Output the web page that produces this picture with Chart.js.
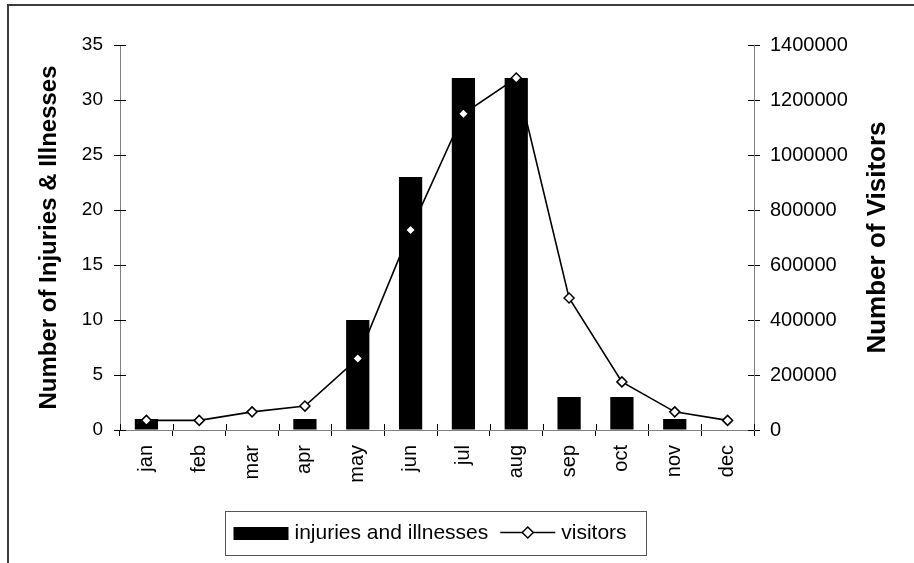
<!DOCTYPE html>
<html>
<head>
<meta charset="utf-8">
<script src="https://cdn.jsdelivr.net/npm/chart.js@4"></script>
<style>
html,body{margin:0;padding:0;background:#fff;overflow:hidden}
#wrap{width:914px;height:563px;position:relative}
canvas{display:block}
</style>
</head>
<body>
<div id="wrap"><canvas id="c" width="914" height="563"></canvas></div>
<script>
// ---- data ----
const months = ['jan','feb','mar','apr','may','jun','jul','aug','sep','oct','nov','dec'];
const injuries = [1, 0, 0, 1, 10, 23, 32, 32, 3, 3, 1, 0];
const visitors = [35000, 35000, 66000, 87000, 260000, 727000, 1150000, 1280000, 480000, 175000, 66000, 35000];
const injuryTicks = [0, 5, 10, 15, 20, 25, 30, 35];
const visitorTicks = [0, 200000, 400000, 600000, 800000, 1000000, 1200000, 1400000];
const injuryLabel = 'injuries and illnesses';
const visitorLabel = 'visitors';
const leftTitle = 'Number of Injuries & Illnesses';
const rightTitle = 'Number of Visitors';

const FONT = '"Liberation Sans", Arial, Helvetica, sans-serif';

// outer frame
const framePlugin = {
  id: 'frame',
  beforeDraw(chart) {
    const ctx = chart.ctx;
    ctx.save();
    ctx.fillStyle = '#fff';
    ctx.fillRect(0, 0, chart.width, chart.height);
    ctx.strokeStyle = '#3c3c3c';
    ctx.lineWidth = 2;
    ctx.beginPath();
    ctx.moveTo(8, chart.height);
    ctx.lineTo(8, 5);
    ctx.lineTo(chart.width, 5);
    ctx.stroke();
    ctx.restore();
  }
};

// inner halves of tick marks (ticks cross the axis lines)
const crossTicksPlugin = {
  id: 'crossTicks',
  afterDatasetsDraw(chart) {
    const ctx = chart.ctx;
    const xs = chart.scales.x, yl = chart.scales.y, yr = chart.scales.y1;
    ctx.save();
    ctx.strokeStyle = '#000';
    ctx.lineWidth = 1;
    ctx.beginPath();
    const n = months.length;
    const bounds = [xs.left];
    for (let i = 0; i < n - 1; i++) {
      bounds.push((xs.getPixelForValue(i) + xs.getPixelForValue(i + 1)) / 2);
    }
    bounds.push(xs.right);
    const yTop = xs.top;
    bounds.forEach(b => {
      const x = Math.round(b) + 0.5;
      ctx.moveTo(x, yTop);
      ctx.lineTo(x, yTop - 6);
    });
    injuryTicks.forEach(v => {
      const y = Math.round(yl.getPixelForValue(v)) + 0.5;
      ctx.moveTo(yl.right, y);
      ctx.lineTo(yl.right + 6, y);
    });
    visitorTicks.forEach(v => {
      const y = Math.round(yr.getPixelForValue(v)) + 0.5;
      ctx.moveTo(yr.left, y);
      ctx.lineTo(yr.left - 6, y);
    });
    ctx.stroke();
    ctx.restore();
  }
};

// right axis title (reads bottom-to-top) and boxed legend
const extrasPlugin = {
  id: 'extras',
  afterDraw(chart) {
    const ctx = chart.ctx;
    const yr = chart.scales.y1;
    const area = chart.chartArea;
    // right title
    ctx.save();
    ctx.translate(yr.left + 124, (area.top + area.bottom) / 2);
    ctx.rotate(-Math.PI / 2);
    ctx.font = 'bold 26px ' + FONT;
    ctx.fillStyle = '#000';
    ctx.textAlign = 'center';
    ctx.textBaseline = 'middle';
    ctx.fillText(rightTitle, 0, 0);
    ctx.restore();

    // legend
    ctx.save();
    ctx.font = '21px ' + FONT;
    const t1 = chart.data.datasets[0].label;
    const t2 = chart.data.datasets[1].label;
    const w1 = ctx.measureText(t1).width;
    const w2 = ctx.measureText(t2).width;
    const padL = 8, sw = 55, gap = 6, between = 12, padR = 20;
    const total = padL + sw + gap + w1 + between + sw + gap + w2 + padR;
    const cx = (area.left + area.right) / 2 - 1.5;
    const bx = Math.round(cx - total / 2) + 0.5;
    const by = 511.5, bh = 44;
    const cy = by + bh / 2;
    ctx.strokeStyle = '#555';
    ctx.lineWidth = 1;
    ctx.strokeRect(bx, by, Math.round(total), bh);
    let x = bx + padL;
    ctx.fillStyle = '#000';
    ctx.fillRect(x, cy - 6.5, sw, 13);
    x += sw + gap;
    ctx.textAlign = 'left';
    ctx.textBaseline = 'middle';
    ctx.fillText(t1, x, cy);
    x += w1 + between;
    ctx.strokeStyle = '#000';
    ctx.lineWidth = 1.5;
    ctx.beginPath();
    ctx.moveTo(x, cy - 1);
    ctx.lineTo(x + sw, cy - 1);
    ctx.stroke();
    const dx = x + sw / 2, dy = cy - 1, r = 5.5;
    ctx.beginPath();
    ctx.moveTo(dx, dy - r);
    ctx.lineTo(dx + r, dy);
    ctx.lineTo(dx, dy + r);
    ctx.lineTo(dx - r, dy);
    ctx.closePath();
    ctx.fillStyle = '#fff';
    ctx.fill();
    ctx.stroke();
    x += sw + gap;
    ctx.fillStyle = '#000';
    ctx.fillText(t2, x, cy);
    ctx.restore();
  }
};

new Chart(document.getElementById('c'), {
  type: 'bar',
  data: {
    labels: months,
    datasets: [
      {
        type: 'bar',
        label: injuryLabel,
        data: injuries,
        yAxisID: 'y',
        backgroundColor: '#000',
        borderWidth: 0,
        barPercentage: 0.44,
        categoryPercentage: 1.0,
        order: 2
      },
      {
        type: 'line',
        label: visitorLabel,
        data: visitors,
        yAxisID: 'y1',
        borderColor: '#000',
        borderWidth: 1.6,
        tension: 0,
        fill: false,
        pointStyle: 'rectRot',
        pointRadius: 5,
        pointBackgroundColor: '#fff',
        pointBorderColor: '#000',
        pointBorderWidth: 1.5,
        order: 1
      }
    ]
  },
  options: {
    responsive: false,
    animation: false,
    devicePixelRatio: 1,
    layout: { padding: { top: 45, left: 0, right: 0, bottom: 0 } },
    plugins: {
      legend: { display: false },
      tooltip: { enabled: false }
    },
    scales: {
      x: {
        offset: true,
        grid: { display: true, drawOnChartArea: false, offset: true, tickLength: 6, color: '#000' },
        border: { display: true, color: '#808080', width: 1 },
        ticks: {
          minRotation: 90, maxRotation: 90, autoSkip: false,
          color: '#000', padding: 9,
          font: { family: FONT, size: 20 }
        },
        afterFit(s) { s.height = 133; }
      },
      y: {
        position: 'left',
        min: 0, max: 35,
        afterBuildTicks(s) { s.ticks = injuryTicks.map(v => ({ value: v })); },
        grid: { display: true, drawOnChartArea: false, tickLength: 6, color: '#000' },
        border: { display: true, color: '#808080', width: 1 },
        ticks: {
          color: '#000', padding: 11,
          font: { family: FONT, size: 19 },
          callback: v => String(v)
        },
        title: {
          display: true,
          text: leftTitle,
          color: '#000',
          font: { family: FONT, size: 24, weight: 'bold' },
          padding: { top: 35, bottom: 0 }
        },
        afterFit(s) { s.width = 120; }
      },
      y1: {
        position: 'right',
        min: 0, max: 1400000,
        afterBuildTicks(s) { s.ticks = visitorTicks.map(v => ({ value: v })); },
        grid: { display: true, drawOnChartArea: false, tickLength: 6, color: '#000' },
        border: { display: true, color: '#808080', width: 1 },
        ticks: {
          color: '#000', padding: 10,
          font: { family: FONT, size: 20 },
          callback: v => String(v)
        },
        afterFit(s) { s.width = 160; }
      }
    }
  },
  plugins: [framePlugin, crossTicksPlugin, extrasPlugin]
});
</script>
</body>
</html>
